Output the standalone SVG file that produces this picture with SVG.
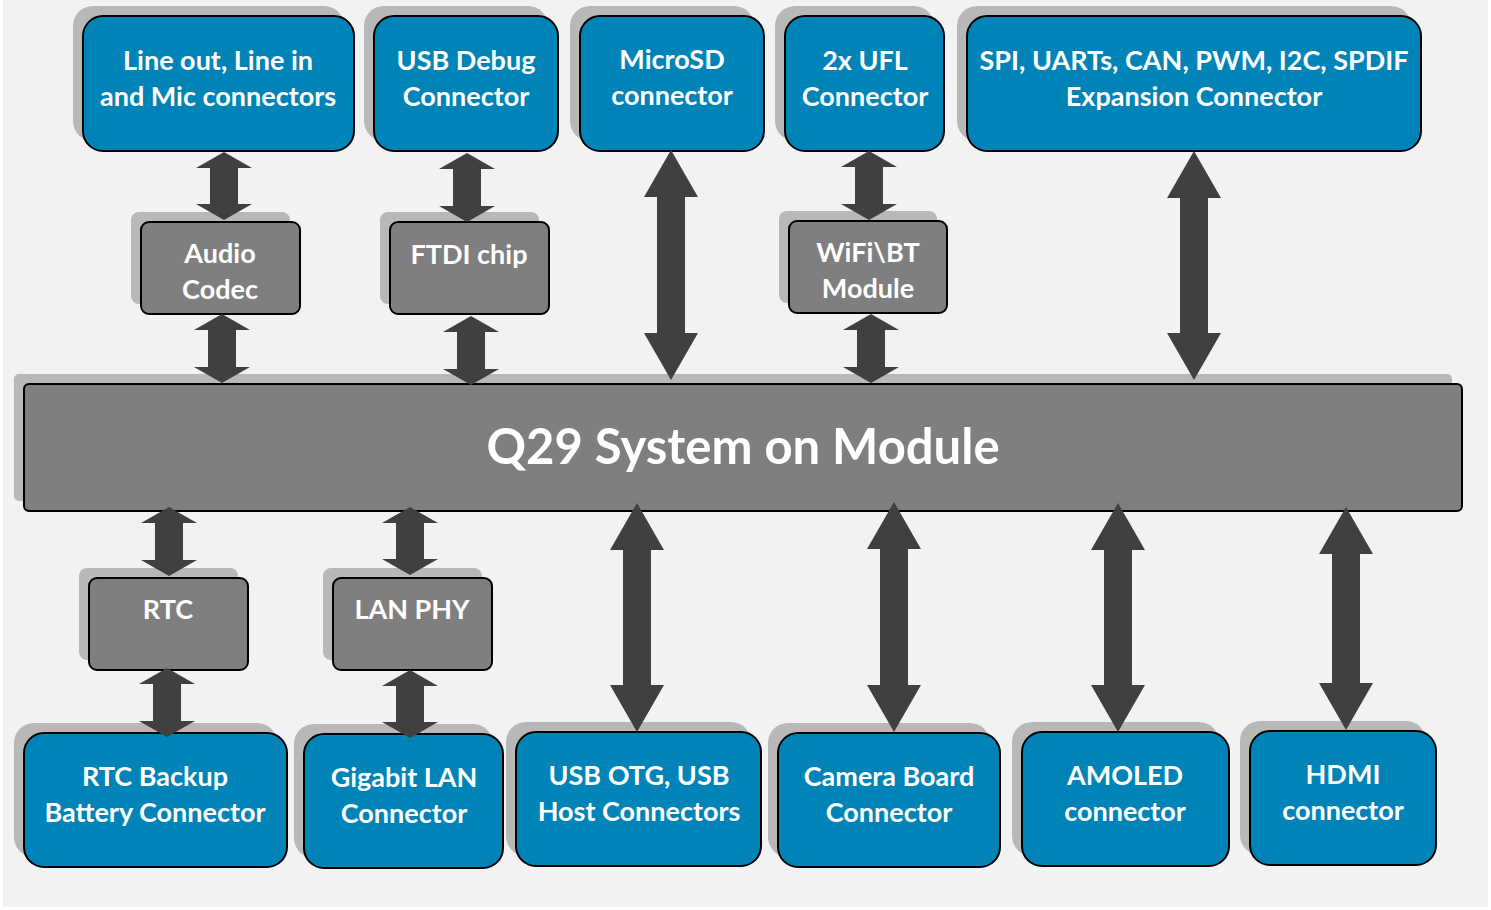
<svg xmlns="http://www.w3.org/2000/svg" width="1491" height="910" viewBox="0 0 1491 910">
<style>
.sh{fill:#b8b8b8}
.blue{fill:#0084b8;stroke:#000;stroke-width:2}
.gray{fill:#7f7f7f;stroke:#000;stroke-width:2}
.t{font-family:Lato,"Open Sans",sans-serif;font-weight:bold;font-size:27px;fill:#fff;text-anchor:middle}
.big{font-size:49px}
.arr{fill:#404040}
</style>
<rect x="0" y="0" width="1491" height="910" fill="#ffffff"/>
<rect x="3" y="0" width="1485" height="907" fill="#f2f2f2"/>

<g id="q29">
<rect class="sh" x="14" y="374" width="1438" height="127" rx="5"/>
<rect class="gray" x="24" y="384" width="1438" height="127" rx="5"/>
<text class="t big" x="743" y="464">Q29 System on Module</text>
</g>

<g id="lineout">
<rect class="sh" x="73" y="6" width="271" height="135" rx="20"/>
<rect class="blue" x="83" y="16" width="271" height="135" rx="20"/>
<text class="t" x="218" y="70">Line out, Line in</text>
<text class="t" x="218" y="106">and Mic connectors</text>
</g>
<g id="usbdebug">
<rect class="sh" x="364" y="6" width="184" height="135" rx="20"/>
<rect class="blue" x="374" y="16" width="184" height="135" rx="20"/>
<text class="t" x="466" y="70">USB Debug</text>
<text class="t" x="466" y="106">Connector</text>
</g>
<g id="microsd">
<rect class="sh" x="570" y="6" width="184" height="135" rx="20"/>
<rect class="blue" x="580" y="16" width="184" height="135" rx="20"/>
<text class="t" x="672" y="69">MicroSD</text>
<text class="t" x="672" y="105">connector</text>
</g>
<g id="ufl">
<rect class="sh" x="775" y="6" width="159" height="135" rx="20"/>
<rect class="blue" x="785" y="16" width="159" height="135" rx="20"/>
<text class="t" x="865" y="70">2x UFL</text>
<text class="t" x="865" y="106">Connector</text>
</g>
<g id="expansion">
<rect class="sh" x="957" y="6" width="454" height="135" rx="20"/>
<rect class="blue" x="967" y="16" width="454" height="135" rx="20"/>
<text class="t" x="1194" y="70">SPI, UARTs, CAN, PWM, I2C, SPDIF</text>
<text class="t" x="1194" y="106">Expansion Connector</text>
</g>

<g id="audiocodec">
<rect class="sh" x="131" y="212" width="159" height="92" rx="8"/>
<rect class="gray" x="141" y="222" width="159" height="92" rx="8"/>
<text class="t" x="220" y="263">Audio</text>
<text class="t" x="220" y="299">Codec</text>
</g>
<g id="ftdi">
<rect class="sh" x="380" y="212" width="159" height="92" rx="8"/>
<rect class="gray" x="390" y="222" width="159" height="92" rx="8"/>
<text class="t" x="469" y="264">FTDI chip</text>
</g>
<g id="wifibt">
<rect class="sh" x="779" y="211" width="158" height="92" rx="8"/>
<rect class="gray" x="789" y="221" width="158" height="92" rx="8"/>
<text class="t" x="868" y="262">WiFi\BT</text>
<text class="t" x="868" y="298">Module</text>
</g>

<g id="rtc">
<rect class="sh" x="79" y="568" width="159" height="92" rx="8"/>
<rect class="gray" x="89" y="578" width="159" height="92" rx="8"/>
<text class="t" x="168" y="619">RTC</text>
</g>
<g id="lanphy">
<rect class="sh" x="323" y="568" width="159" height="92" rx="8"/>
<rect class="gray" x="333" y="578" width="159" height="92" rx="8"/>
<text class="t" x="412" y="619">LAN PHY</text>
</g>

<g id="rtcbackup">
<rect class="sh" x="14" y="723" width="263" height="134" rx="20"/>
<rect class="blue" x="24" y="733" width="263" height="134" rx="20"/>
<text class="t" x="155" y="786">RTC Backup</text>
<text class="t" x="155" y="822">Battery Connector</text>
</g>
<g id="gigabit">
<rect class="sh" x="294" y="724" width="199" height="134" rx="20"/>
<rect class="blue" x="304" y="734" width="199" height="134" rx="20"/>
<text class="t" x="404" y="787">Gigabit LAN</text>
<text class="t" x="404" y="823">Connector</text>
</g>
<g id="usbotg">
<rect class="sh" x="506" y="722" width="245" height="134" rx="20"/>
<rect class="blue" x="516" y="732" width="245" height="134" rx="20"/>
<text class="t" x="639" y="785">USB OTG, USB</text>
<text class="t" x="639" y="821">Host Connectors</text>
</g>
<g id="camera">
<rect class="sh" x="768" y="723" width="222" height="134" rx="20"/>
<rect class="blue" x="778" y="733" width="222" height="134" rx="20"/>
<text class="t" x="889" y="786">Camera Board</text>
<text class="t" x="889" y="822">Connector</text>
</g>
<g id="amoled">
<rect class="sh" x="1012" y="722" width="207" height="134" rx="20"/>
<rect class="blue" x="1022" y="732" width="207" height="134" rx="20"/>
<text class="t" x="1125" y="785">AMOLED</text>
<text class="t" x="1125" y="821">connector</text>
</g>
<g id="hdmi">
<rect class="sh" x="1240" y="721" width="186" height="134" rx="20"/>
<rect class="blue" x="1250" y="731" width="186" height="134" rx="20"/>
<text class="t" x="1343" y="784">HDMI</text>
<text class="t" x="1343" y="820">connector</text>
</g>

<g id="connectors" class="arr">
<path d="M224,152 L252,168 L238,168 L238,204 L252,204 L224,220 L196,204 L210,204 L210,168 L196,168 Z"/>
<path d="M222,314 L250,330 L236,330 L236,367 L250,367 L222,383 L194,367 L208,367 L208,330 L194,330 Z"/>
<path d="M467,153 L495,169 L481,169 L481,206 L495,206 L467,222 L439,206 L453,206 L453,169 L439,169 Z"/>
<path d="M471,316 L499,332 L485,332 L485,369 L499,369 L471,385 L443,369 L457,369 L457,332 L443,332 Z"/>
<path d="M671,150 L698,197 L685,197 L685,333 L698,333 L671,380 L644,333 L657,333 L657,197 L644,197 Z"/>
<path d="M869,151 L897,167 L883,167 L883,204 L897,204 L869,220 L841,204 L855,204 L855,167 L841,167 Z"/>
<path d="M871,314 L899,330 L885,330 L885,367 L899,367 L871,383 L843,367 L857,367 L857,330 L843,330 Z"/>
<path d="M1194,151 L1221,198 L1208,198 L1208,333 L1221,333 L1194,380 L1167,333 L1180,333 L1180,198 L1167,198 Z"/>
<path d="M169,507 L197,523 L183,523 L183,560 L197,560 L169,576 L141,560 L155,560 L155,523 L141,523 Z"/>
<path d="M167,668 L195,684 L181,684 L181,721 L195,721 L167,737 L139,721 L153,721 L153,684 L139,684 Z"/>
<path d="M410,507 L438,523 L424,523 L424,559 L438,559 L410,575 L382,559 L396,559 L396,523 L382,523 Z"/>
<path d="M410,670 L438,686 L424,686 L424,722 L438,722 L410,738 L382,722 L396,722 L396,686 L382,686 Z"/>
<path d="M637,503 L664,550 L651,550 L651,685 L664,685 L637,732 L610,685 L623,685 L623,550 L610,550 Z"/>
<path d="M894,502 L921,549 L908,549 L908,685 L921,685 L894,732 L867,685 L880,685 L880,549 L867,549 Z"/>
<path d="M1118,503 L1145,550 L1132,550 L1132,685 L1145,685 L1118,732 L1091,685 L1104,685 L1104,550 L1091,550 Z"/>
<path d="M1346,507 L1373,554 L1360,554 L1360,683 L1373,683 L1346,730 L1319,683 L1332,683 L1332,554 L1319,554 Z"/>
</g>
</svg>
